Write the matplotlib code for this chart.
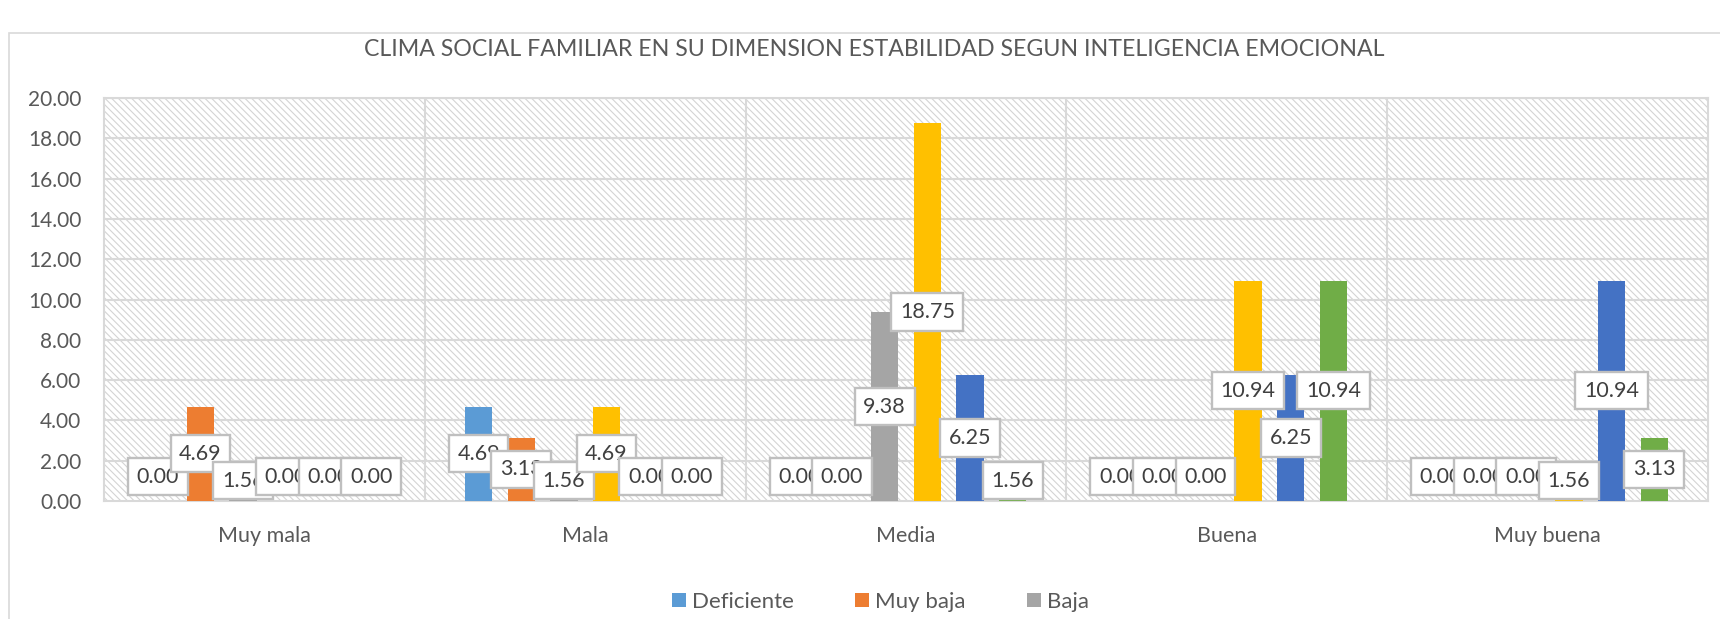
import matplotlib.pyplot as plt
from matplotlib.patches import Rectangle
import numpy as np

# Data
categories = ['Muy mala', 'Mala', 'Media', 'Buena', 'Muy buena']
series_names = ['Deficiente', 'Muy baja', 'Baja', 'Adecuada', 'Alta', 'Muy alta']
deficiente = [0.00, 4.69, 0.00, 0.00, 0.00]
muy_baja = [4.69, 3.13, 0.00, 0.00, 0.00]
baja = [1.56, 1.56, 9.38, 0.00, 0.00]
adecuada = [0.00, 4.69, 18.75, 10.94, 1.56]
alta = [0.00, 0.00, 6.25, 6.25, 10.94]
muy_alta = [0.00, 0.00, 1.56, 10.94, 3.13]
colors = ['#5B9BD5', '#ED7D31', '#A5A5A5', '#FFC000', '#4472C4', '#70AD47']
yticks = [0, 2, 4, 6, 8, 10, 12, 14, 16, 18, 20]

series = [deficiente, muy_baja, baja, adecuada, alta, muy_alta]

plt.rcParams['font.family'] = ['Lato', 'DejaVu Sans']
plt.rcParams['hatch.color'] = '#D4D4D4'
plt.rcParams['hatch.linewidth'] = 0.8

fig = plt.figure(figsize=(17.2, 6.19), dpi=100)
ax = fig.add_axes([0.0605, 0.1906, 0.9325, 0.6511])

# chart frame (cut off at right / bottom like the original)
fig.patches.append(Rectangle((9 / 1720, -0.1), 1.2, 1 - 33 / 619 + 0.1,
                             transform=fig.transFigure, fill=False,
                             edgecolor='#D9D9D9', linewidth=1.2))

# hatched plot background
ax.add_patch(Rectangle((0, 0), 1, 1, transform=ax.transAxes, facecolor='white',
                       hatch='\\\\\\\\\\', edgecolor='#D4D4D4', linewidth=0, zorder=0))

x = np.arange(len(categories))
step = 0.133
width = 0.085
for j, vals in enumerate(series):
    pos = x + (j - 2.5) * step
    ax.bar(pos, vals, width, color=colors[j], label=series_names[j], zorder=3)
    for px, v in zip(pos, vals):
        # label sits mid-bar, but never lower than just above the axis
        ly = max(v / 2, 1.0) if v > 0 else 1.2
        ax.text(px, ly, f'{v:.2f}', ha='center', va='center', fontsize=15.5,
                color='#404040', zorder=5,
                bbox=dict(boxstyle='square,pad=0.4', facecolor='white',
                          edgecolor='#BFBFBF', linewidth=1.7))

ax.set_xlim(-0.5, len(categories) - 0.5)
ax.set_ylim(0, 20)
ax.set_yticks(yticks)
ax.set_yticklabels([f'{t:.2f}' for t in yticks])
ax.set_xticks(x)
ax.set_xticklabels(categories)
ax.tick_params(axis='both', length=0, labelcolor='#595959')
ax.tick_params(axis='y', pad=16.5, labelsize=15)
ax.tick_params(axis='x', pad=18, labelsize=15.5)

for t in yticks[1:]:
    ax.axhline(t, color='#D9D9D9', linewidth=1.5, zorder=1)
for b in np.arange(0.5, len(categories) - 0.5, 1):
    ax.axvline(b, color='#D9D9D9', linewidth=1.5, zorder=1)
for s in ax.spines.values():
    s.set_color('#D9D9D9')
    s.set_linewidth(1.5)

fig.text(0.508, 1 - 50 / 619, 'CLIMA SOCIAL FAMILIAR EN SU DIMENSION ESTABILIDAD SEGUN INTELIGENCIA EMOCIONAL',
         ha='center', va='center', fontsize=16.7, color='#595959')

handles, labels = ax.get_legend_handles_labels()
fig.legend(handles[:3], labels[:3], loc='center', bbox_to_anchor=(0.512, 1 - 602 / 619),
           ncol=3, frameon=False, fontsize=16, labelcolor='#595959',
           handlelength=0.63, handleheight=0.63, handletextpad=0.27, columnspacing=2.75)

fig.savefig('out.png', dpi=100)
